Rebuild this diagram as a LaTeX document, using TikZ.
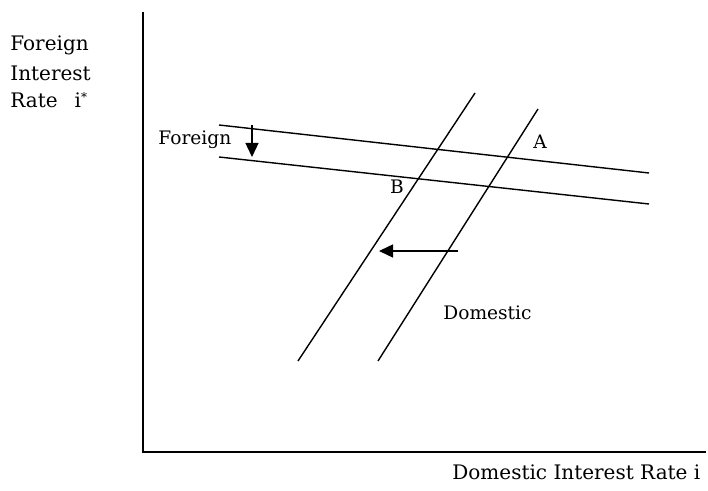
\documentclass[tikz,border=0pt]{standalone}
\usepackage{fontspec}
\setmainfont{DejaVu Serif}
\usetikzlibrary{arrows.meta}
\begin{document}
\begin{tikzpicture}[x=0.5pt,y=-0.5pt,
  curve/.style={line width=0.7pt},
  axis/.style={line width=0.9pt},
  shiftarrow/.style={line width=0.7pt,-{Triangle[length=7pt,width=6.5pt]}},
  lbl/.style={font=\fontsize{10}{12}\selectfont,inner sep=0pt},
  inlbl/.style={font=\fontsize{9.3}{11}\selectfont,inner sep=0pt}]
\useasboundingbox (0,0) rectangle (708,491);
% axes
\coordinate (ytop) at (143,12);
\coordinate (orig) at (143,452);
\coordinate (xend) at (706,452);
\draw[axis] (ytop) -- (orig) -- (xend);
% foreign curves
\coordinate (f1a) at (219,125); \coordinate (f1b) at (649,173);
\coordinate (f2a) at (219,157); \coordinate (f2b) at (649,204);
\draw[curve] (f1a) -- (f1b);
\draw[curve] (f2a) -- (f2b);
% domestic curves
\coordinate (d1a) at (298,361); \coordinate (d1b) at (475,93);
\coordinate (d2a) at (378,361); \coordinate (d2b) at (538,109);
\draw[curve] (d1a) -- (d1b);
\draw[curve] (d2a) -- (d2b);
% shift arrows
\coordinate (va) at (252,125); \coordinate (vb) at (252,157);
\draw[shiftarrow] (va) -- (vb);
\coordinate (ha) at (458,251); \coordinate (hb) at (379,251);
\draw[shiftarrow] (ha) -- (hb);
% labels
\node[inlbl,anchor=west] (lf) at (158,140) {Foreign};
\node[inlbl] (lA) at (540,142) {A};
\node[inlbl] (lB) at (397,187) {B};
\node[inlbl,anchor=west] (ld) at (443,313) {Domestic};
\node[lbl,anchor=west] (lx) at (452,472) {Domestic Interest Rate i};
\node[lbl,anchor=west] (ly1) at (10,45) {Foreign};
\node[lbl,anchor=west] (ly2) at (10,73) {Interest};
\node[lbl,anchor=west] (ly3) at (10,100) {Rate\hspace{0.85em}i\raisebox{0.6ex}{\fontsize{6}{6}\selectfont *}};
\end{tikzpicture}
\end{document}
